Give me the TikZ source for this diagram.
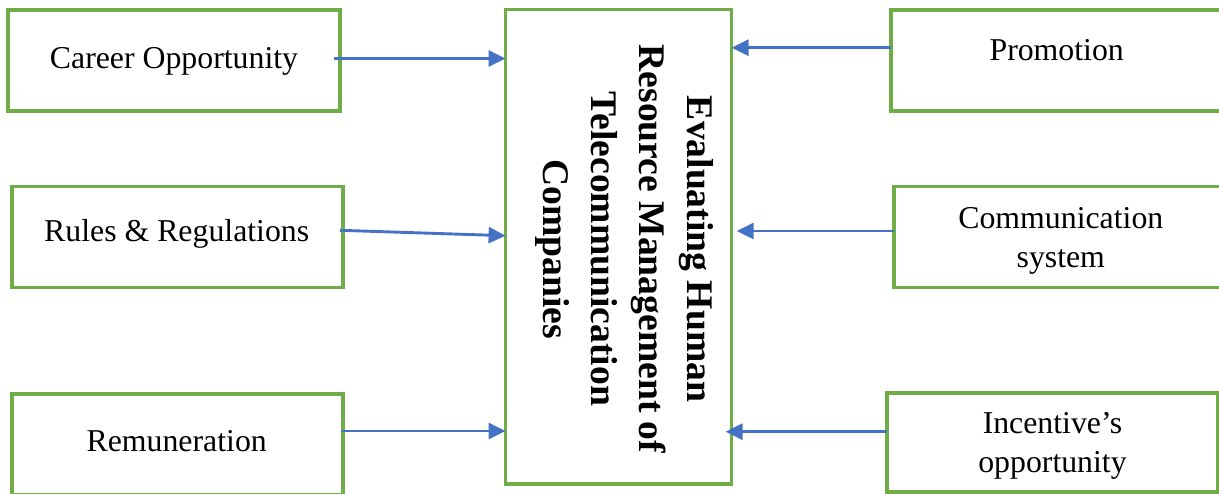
\documentclass[tikz,border=0pt]{standalone}
\usepackage{fontspec}
\setmainfont{Liberation Serif}
\usetikzlibrary{arrows.meta}
\definecolor{boxgreen}{HTML}{70AD47}
\definecolor{arrblue}{HTML}{4472C4}
\tikzset{
  box/.style={draw=boxgreen, line width=1.6pt, inner sep=0pt, outer sep=0pt},
  lbl/.style={font=\fontsize{15.9}{19}\selectfont, inner sep=0pt, anchor=base},
  lbltwo/.style={font=\fontsize{15.9}{19.3}\selectfont, inner sep=0pt, align=center},
  arr/.style={draw=arrblue, line width=1.45pt, -{Triangle[length=8.5pt,width=8pt]}}
}
\begin{document}
\begin{tikzpicture}[x=0.5pt,y=-0.5pt]
\useasboundingbox (0,0) rectangle (1219,493);
\clip (0,0) rectangle (1219,493);
% centre box
\node[box, minimum width=113pt, minimum height=237.35pt] (hr) at (618.6,246.7) {};
\node[rotate=-90, align=center, inner sep=0pt, font=\bfseries\fontsize{18.8}{24}\selectfont] (ht) at (625,249)
  {Evaluating Human\\Resource Management of\\Telecommunication\\Companies};
% left boxes
\node[box, minimum width=166pt, minimum height=50.5pt] (co) at (174,60.5) {};
\node[lbl] (coT) at (174,68) {Career Opportunity};
\node[box, minimum width=165.5pt, minimum height=50.3pt] (rr) at (177.5,237) {};
\node[lbl] (rrT) at (176.7,241.7) {Rules \& Regulations};
\node[box, minimum width=165.5pt, minimum height=50.5pt] (rm) at (177.5,444.5) {};
\node[lbl] (rmT) at (176.7,451.7) {Remuneration};
% right boxes
\node[box, minimum width=165.5pt, minimum height=50.5pt] (pr) at (1056.5,60.5) {};
\node[lbl] (prT) at (1056.7,60) {Promotion};
\node[box, minimum width=165.5pt, minimum height=50.3pt] (cs) at (1059.5,237) {};
\node[lbltwo] (csT) at (1060.8,241) {Communication\\system};
\node[box, minimum width=165.5pt, minimum height=49.5pt] (in) at (1052.5,442.5) {};
\node[lbltwo] (inT) at (1052.5,446) {Incentive’s\\opportunity};
% connectors
\draw[arr] ([xshift=-3pt]co.east |- 0,58.5) -- (hr.west |- 0,58.5);
\draw[arr] ([xshift=-1.5pt]rr.east |- 0,230.3) -- (hr.west |- 0,235.7);
\draw[arr] ([xshift=-1pt]rm.east |- 0,431) -- (hr.west |- 0,431);
\draw[arr] (pr.west |- 0,47.7) -- (hr.east |- 0,47.7);
\draw[arr] (cs.west |- 0,231) -- ([xshift=2.5pt]hr.east |- 0,231);
\draw[arr] (in.west |- 0,431.7) -- ([xshift=-3pt]hr.east |- 0,431.7);
\end{tikzpicture}
\end{document}
